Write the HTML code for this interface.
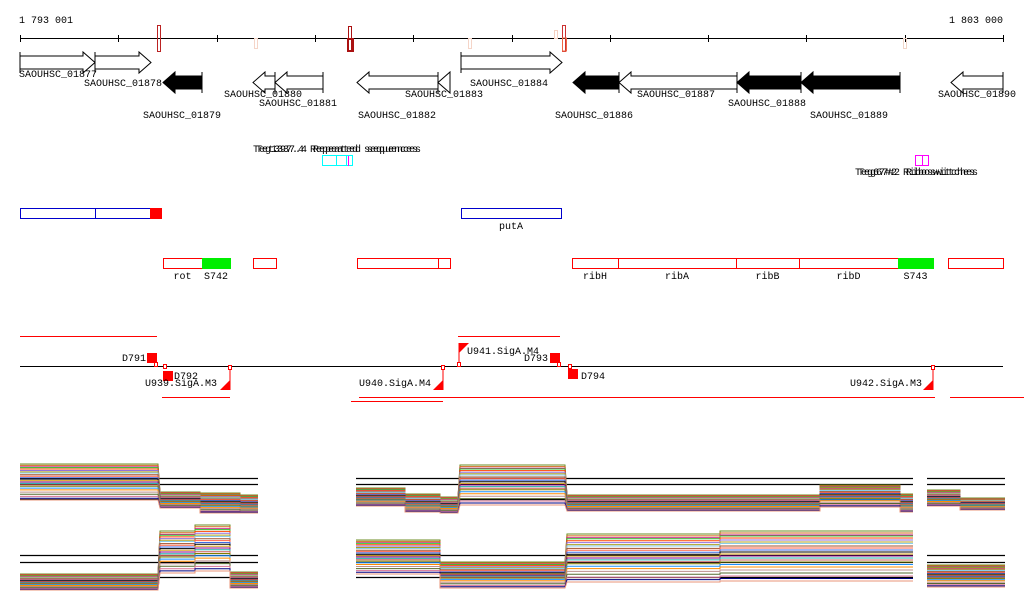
<!DOCTYPE html>
<html><head><meta charset="utf-8"><style>
html,body{margin:0;padding:0;background:#fff;width:1024px;height:611px;overflow:hidden}
svg text{font-family:"Liberation Mono","DejaVu Sans Mono",monospace;font-size:10px;fill:#000}
</style></head><body>
<svg id="chart" width="1024" height="611" viewBox="0 0 1024 611" xmlns="http://www.w3.org/2000/svg">
<g id="ruler">
<text x="19" y="23">1 793 001</text>
<text x="1003" y="23" text-anchor="end">1 803 000</text>
<line x1="20" y1="38.5" x2="1003" y2="38.5" stroke="#000" stroke-width="1"/>
</g>
<g id="genes"></g>
<g id="misc">
<text x="253" y="152">Teg1337.4 Repeated sequences</text>
<text x="256" y="152">Tet397.4 Repeated sequences</text>
<rect x="322.5" y="155.5" width="14" height="10" fill="none" stroke="#0ff"/>
<rect x="336.5" y="155.5" width="10" height="10" fill="none" stroke="#0ff"/>
<rect x="346.5" y="155.5" width="6" height="10" fill="none" stroke="#0ff"/>
<line x1="348.5" y1="156" x2="348.5" y2="166" stroke="#f0f"/>
<rect x="915.5" y="155.5" width="13" height="10" fill="none" stroke="#f0f"/>
<line x1="922.5" y1="156" x2="922.5" y2="166" stroke="#f0f"/>
<text x="855" y="175">Teg67#2 Riboswitches</text>
<text x="858" y="175">Teg67#2 Riboswitches</text>
</g>
<g id="ops"></g>
<g id="mid"></g>
<g id="expr"></g>
</svg>
<script>
const NS='http://www.w3.org/2000/svg';
function mk(parent,tag,attrs,txt){const e=document.createElementNS(NS,tag);for(const k in attrs)e.setAttribute(k,attrs[k]);if(txt!==undefined)e.textContent=txt;parent.appendChild(e);return e;}
const posStart=1793001, posEnd=1803000;
function X(p){return 20+(p-posStart)/(posEnd-posStart)*983;}
function P(x){return posStart+(x-20)/983*(posEnd-posStart);}
const ruler=document.getElementById('ruler');
for(let i=0;i<=10;i++){const t=mk(ruler,'line',{x1:20.5+Math.round(i*98.3),y1:35,x2:20.5+Math.round(i*98.3),y2:42,stroke:'#000'});

}
const hitX=[159,256,350,470,556,564,905];
const hitY=[25,38,26,38,30,25,38];
const hitH=[26,10,25,10,8,26,10];
const hitC=['#b22','#f5d5c8','#a11','#f5d5c8','#f5d0c0','#c33','#f0d5c8'];
hitX.forEach((x,i)=>{const r=mk(ruler,'rect',{x:x-1.5,y:hitY[i]+.5,width:3,height:hitH[i],fill:'none',stroke:hitC[i]});

});
mk(ruler,'rect',{x:348,y:39,width:5,height:12,fill:'none',stroke:'#a11','stroke-width':2});
mk(ruler,'rect',{x:562.5,y:38,width:4,height:13,fill:'none',stroke:'#e64'});
const geneNames=['SAOUHSC_01877','SAOUHSC_01878','SAOUHSC_01879','SAOUHSC_01880','SAOUHSC_01881','SAOUHSC_01882','SAOUHSC_01883','SAOUHSC_01884','SAOUHSC_01886','SAOUHSC_01887','SAOUHSC_01888','SAOUHSC_01889','SAOUHSC_01890'];
const geneStart=[20,95,163,253,275,357,438,461,573,619,737,801,951];
const geneEnd=[95,151,202,275,323,438,450,562,619,737,801,900,1003];
const geneStrand=[1,1,-1,-1,-1,-1,-1,1,-1,-1,-1,-1,-1];
const geneFill=[0,0,1,0,0,0,0,0,1,0,1,1,0];
const geneRow=[0,0,1,1,1,1,1,0,1,1,1,1,1];
const labelX=[19,84,143,224,259,358,405,470,555,637,728,810,938];
const labelY=[77,86,118,97,106,118,97,86,118,97,106,118,97];
const G=document.getElementById('genes');
geneNames.forEach((n,i)=>{
 const a=X(P(geneStart[i])), b=X(P(geneEnd[i]));
 const top=geneRow[i]?72:52, c=top+10.5, hh=6.5, ah=10.5, hl=Math.min(12,(b-a));
 let pts;
 if(geneStrand[i]>0) pts=[[a,c-hh],[b-hl,c-hh],[b-hl,c-ah],[b,c],[b-hl,c+ah],[b-hl,c+hh],[a,c+hh]];
 else pts=[[b,c-hh],[a+hl,c-hh],[a+hl,c-ah],[a,c],[a+hl,c+ah],[a+hl,c+hh],[b,c+hh]];
 const g=mk(G,'g',{});
 
 
 mk(g,'polygon',{points:pts.map(p=>p.join(',')).join(' '),fill:geneFill[i]?'#000':'#fff',stroke:'#000'});
 const base=geneStrand[i]>0?a:b; mk(g,'line',{x1:base,y1:top,x2:base,y2:top+21,stroke:'#000'});
 const t=mk(g,'text',{x:labelX[i],y:labelY[i]},n);
 
 
});
const O=document.getElementById('ops');
const opX0=[20,95,150,461,163,202,253,357,438,572,618,736,799,898,948];
const opX1=[95,150,161,561,202,230,276,438,450,618,736,799,898,933,1003];
const opY=[208,208,208,208,258,258,258,258,258,258,258,258,258,258,258];
const opKind=['b','b','rf','b','r','g','r','r','r','r','r','r','r','g','r'];
const opLabel=['','','','putA','rot','S742','','','','ribH','ribA','ribB','ribD','S743',''];
opX0.forEach((x0,i)=>{
 const k=opKind[i];const r=mk(O,'rect',{x:x0+.5,y:opY[i]+.5,width:opX1[i]-x0,height:10,
  fill:k=='g'?'#0e0':(k=='rf'?'#f00':'#fff'),stroke:k=='b'?'#00c':(k=='g'?'#0e0':'#f00')});
 
 
 if(opLabel[i]){const t=mk(O,'text',{x:(x0+opX1[i])/2,y:opY[i]+21,'text-anchor':'middle'},opLabel[i]);
 
 }
});
const M=document.getElementById('mid');
mk(M,'line',{x1:20,y1:366.5,x2:1003,y2:366.5,stroke:'#000'});
mk(M,'line',{x1:20,y1:336.5,x2:157,y2:336.5,stroke:'#f00'});
mk(M,'line',{x1:458,y1:336.5,x2:560,y2:336.5,stroke:'#f00'});
mk(M,'line',{x1:162,y1:397.5,x2:230,y2:397.5,stroke:'#f00'});
mk(M,'line',{x1:359,y1:397.5,x2:935,y2:397.5,stroke:'#f00'});
mk(M,'line',{x1:950,y1:397.5,x2:1024,y2:397.5,stroke:'#f00'});
mk(M,'line',{x1:351,y1:401.5,x2:443,y2:401.5,stroke:'#f00'});
const termName=['D791','D792','D793','D794'];
const termX=[147,163,550,568];const termY=[353,371,353,369];
const termLX=[146,174,548,581];const termLY=[361,379,361,379];const termAnch=['end','start','end','start'];
termName.forEach((n,i)=>{const r=mk(M,'rect',{x:termX[i],y:termY[i],width:10,height:10,fill:'#f00'});
 
 
 mk(M,'rect',{x:termX[i]+(i%2?0:7)+.5,y:i%2?364.5:362.5,width:3,height:4,fill:'#fff',stroke:'#f00'});
 mk(M,'text',{x:termLX[i],y:termLY[i],'text-anchor':termAnch[i]},n);});
const promName=['U939.SigA.M3','U940.SigA.M4','U941.SigA.M4','U942.SigA.M3'];
const promX=[230,443,459,933];const promDir=[1,1,-1,1];const promLX=[217,431,467,922];const promLY=[386,386,354,386];
promName.forEach((n,i)=>{const g=mk(M,'g',{});
 
 
 const x=promX[i];
 if(promDir[i]>0){mk(g,'line',{x1:x,y1:367,x2:x,y2:390,stroke:'#f00'});
  mk(g,'polygon',{points:`${x},380 ${x},390 ${x-10},390`,fill:'#f00'});
  mk(g,'rect',{x:x-1.5,y:365.5,width:3,height:4,fill:'#fff',stroke:'#f00'});
  mk(g,'text',{x:promLX[i],y:promLY[i],'text-anchor':'end'},n);}
 else{mk(g,'line',{x1:x,y1:343,x2:x,y2:366,stroke:'#f00'});
  mk(g,'polygon',{points:`${x},343 ${x+10},343 ${x},353`,fill:'#f00'});
  mk(g,'rect',{x:x-1.5,y:362.5,width:3,height:4,fill:'#fff',stroke:'#f00'});
  mk(g,'text',{x:promLX[i],y:promLY[i]},n);}
});
// expression tracks: segments [x0, x1, center, spread]
const track1Segs=[[20,158,482,36],[160,200,500,16],[200,240,503,20],[240,258,504,18],[356,405,497,18],[405,440,503,18],[440,458,505,16],[460,565,485,40],[567,700,503,16],[700,820,503,16],[820,900,496,22],[900,913,503,18],[927,960,498,16],[960,1005,504,12]];
const track2Segs=[[20,158,582,16],[160,195,552,42],[195,230,548,46],[230,258,580,16],[356,440,557,34],[440,565,575,26],[567,720,558,48],[720,1000,0,0]].slice(0,7).concat([[720,913,556,50],[927,1005,576,22]]);
const seriesOffset=[-0.5,-0.46,-0.42,-0.4,-0.36,-0.32,-0.28,-0.25,-0.2,-0.16,-0.12,-0.08,-0.04,0,0.04,0.08,0.12,0.17,0.22,0.28,0.34,0.4,0.45,0.5];
const seriesColor=['#6b8e23','#d2691e','#c71585','#32cd32','#ff4500','#9370db','#b0a020','#87ceeb','#a0522d','#ff6347','#4169e1','#000','#daa520','#8b008b','#20b2aa','#cd5c5c','#808000','#1e90ff','#ff8c00','#bc8f8f','#556b2f','#d87093','#000080','#e9967a'];
const refLines1=[478,484,499],refLines2=[555,562,577];
const E=document.getElementById('expr');
const refSpans=[[20,258],[356,913],[927,1005]];
refSpans.forEach(s=>{[...refLines1,...refLines2].forEach(y=>mk(E,'line',{x1:s[0],y1:y+.5,x2:s[1],y2:y+.5,stroke:'#000','stroke-width':1.3}));});
function drawTrack(segs){
 seriesOffset.forEach((o,j)=>{
  let d='';let prevEnd=null;
  segs.forEach(s=>{const y=(s[2]+s[3]*o).toFixed(1);
   if(prevEnd!==null&&s[0]-prevEnd<5)d+=`L${s[0]},${y} `;else d+=`M${s[0]},${y} `;
   d+=`L${s[1]},${y} `;prevEnd=s[1];});
  const p=mk(E,'path',{d:d,fill:'none',stroke:seriesColor[j],'stroke-width':1});
  
  
 });
}
drawTrack(track1Segs);
drawTrack(track2Segs);
</script>
</body></html>
